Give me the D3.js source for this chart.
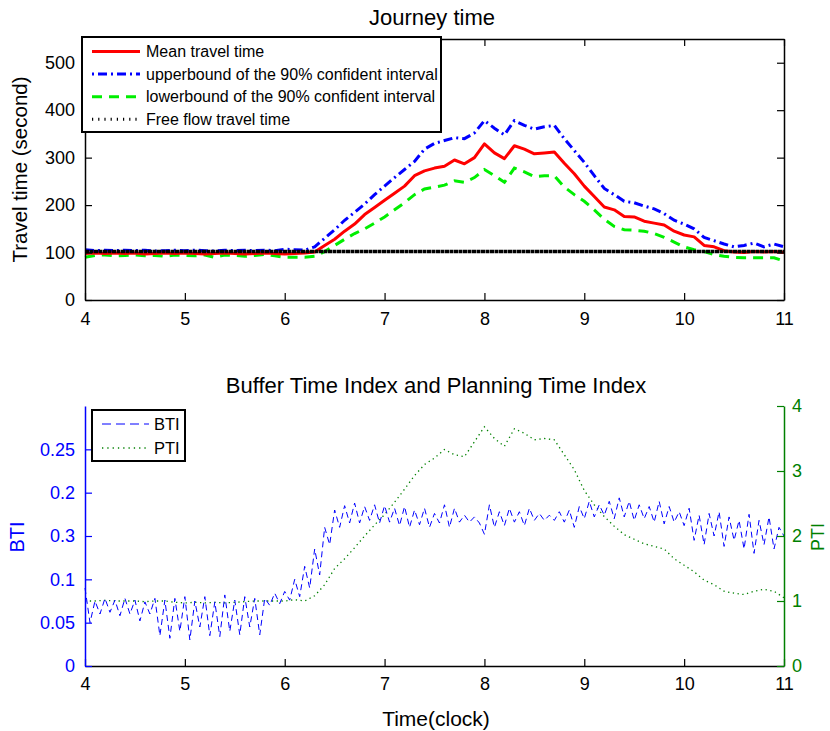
<!DOCTYPE html>
<html><head><meta charset="utf-8">
<script src="https://cdn.jsdelivr.net/npm/d3@7"></script>
<style>
body{margin:0;background:#fff;}
svg{display:block;}
</style></head><body>
<svg id="chart" width="830" height="731"></svg>
<script>
// ---------------- data ----------------
const hourTicks = [4, 5, 6, 7, 8, 9, 10, 11];
const travelTicks = [0, 100, 200, 300, 400, 500];
const btiTickValues = [0, 0.05, 0.1, 0.15, 0.2, 0.25];
const btiTickLabels = ["0", "0.05", "0.1", "0.3", "0.2", "0.25"];
const ptiTicks = [0, 1, 2, 3, 4];
const startHour = 4;
const travelStep = 0.1;   // hours between samples (travel time & PTI)
const btiStep = 0.05;     // hours between BTI samples

const meanTravel = [
  98, 99, 98, 99, 98, 99, 97, 98, 99, 98,
  99, 98, 97, 98, 99, 98, 97, 98, 99, 98,
  97, 98, 99,
  101, 115, 128, 145, 160, 180, 195,
  210, 225, 240, 262, 272, 278, 282, 295, 287, 300,
  329, 310, 298, 325, 318, 308, 310, 312, 288, 266,
  240, 218, 196, 190, 176, 175, 166, 162, 158, 145,
  137, 133, 115, 112, 104, 101, 100, 102, 101, 102,
  100
];
const upperBound = [
  106, 104, 105, 104, 105, 104, 105, 103, 104, 105,
  104, 105, 104, 103, 105, 104, 105, 104, 105, 104,
  107, 106, 105,
  112, 130, 148, 168, 185, 202, 222,
  240, 258, 275, 292, 318, 330, 336, 342, 340, 352,
  378, 362, 348, 378, 368, 360, 365, 368, 340, 315,
  290, 262, 235, 222, 208, 205, 198, 192, 182, 168,
  160, 150, 132, 125, 118, 112, 115, 120, 112, 118,
  112
];
const lowerBound = [
  90, 94, 95, 93, 94, 95, 93, 94, 92, 95,
  94, 93, 95, 90, 95, 94, 92, 94, 96, 93,
  90, 90, 90,
  92, 102, 115, 128, 140, 150, 162,
  175, 190, 205, 222, 234, 238, 242, 251, 248, 258,
  275, 262, 248, 278, 270, 260, 262, 262, 238, 222,
  208, 190, 170, 155, 148, 147, 145, 140, 132, 122,
  112, 106, 102, 96, 92, 90, 89, 89, 89, 89,
  82
];
const freeFlowTime = 102;

const ptiValues = [
  1.0, 1.0, 1.01, 1.0, 1.0, 1.0, 0.99, 1.0, 1.0, 0.98,
  0.97, 0.98, 0.97, 0.98, 0.97, 0.98, 0.99, 1.0, 1.0, 1.0,
  1.0, 1.02, 1.0,
  1.08, 1.25, 1.5, 1.65, 1.82, 2.0, 2.17,
  2.33, 2.52, 2.72, 2.93, 3.1, 3.2, 3.33, 3.25, 3.22, 3.45,
  3.68, 3.5, 3.38, 3.65, 3.58, 3.48, 3.5, 3.48, 3.25, 3.02,
  2.7, 2.48, 2.3, 2.15, 2.02, 1.95, 1.88, 1.84, 1.8, 1.65,
  1.55, 1.45, 1.32, 1.25, 1.15, 1.12, 1.1, 1.15, 1.18, 1.15,
  1.05
];

const btiValues = [
  0.09, 0.05, 0.075, 0.06, 0.078, 0.062, 0.076, 0.058, 0.078, 0.06,   // 4.00-4.45
  0.076, 0.052, 0.074, 0.06, 0.078, 0.035, 0.076, 0.032, 0.078, 0.04, // 4.50-4.95
  0.08, 0.03, 0.075, 0.045, 0.08, 0.035, 0.074, 0.034, 0.082, 0.04,   // 5.00-5.45
  0.076, 0.036, 0.08, 0.045, 0.078, 0.036, 0.078, 0.07, 0.084, 0.072, // 5.50-5.95
  0.086, 0.076, 0.1, 0.08, 0.115, 0.09, 0.135, 0.105, 0.16, 0.14,     // 6.00-6.45
  0.18, 0.16, 0.185, 0.165, 0.188, 0.165, 0.184, 0.168, 0.186, 0.165, // 6.50-6.95
  0.185, 0.166, 0.182, 0.162, 0.184, 0.16, 0.18, 0.163, 0.182, 0.16,  // 7.00-7.45
  0.176, 0.165, 0.186, 0.16, 0.182, 0.166, 0.174, 0.166, 0.172, 0.165,// 7.50-7.95
  0.152, 0.186, 0.16, 0.178, 0.162, 0.182, 0.166, 0.178, 0.162, 0.182,// 8.00-8.45
  0.168, 0.176, 0.168, 0.174, 0.168, 0.178, 0.166, 0.18, 0.16, 0.184, // 8.50-8.95
  0.17, 0.19, 0.172, 0.186, 0.174, 0.19, 0.17, 0.194, 0.172, 0.19,    // 9.00-9.45
  0.168, 0.186, 0.17, 0.184, 0.166, 0.19, 0.164, 0.184, 0.166, 0.178, // 9.50-9.95
  0.162, 0.182, 0.145, 0.174, 0.14, 0.176, 0.15, 0.178, 0.138, 0.172, // 10.00-10.45
  0.145, 0.168, 0.135, 0.175, 0.13, 0.168, 0.14, 0.172, 0.135, 0.16,  // 10.50-10.95
  0.15                                                                // 11.00
];

const topLegendLabels = [
  "Mean travel time",
  "upperbound of the 90% confident interval",
  "lowerbound of the 90% confident interval",
  "Free flow travel time"
];
const bottomLegendLabels = ["BTI", "PTI"];

// ---------------- drawing ----------------
const FONT = '"Liberation Sans", Arial, Helvetica, sans-serif';
const svg = d3.select("#chart").style("font-family", FONT);
const intFmt = d3.format("d");

const X0 = 85, X1 = 784;
const xTop = d3.scaleLinear().domain([4, 11]).range([X0, X1]);
const yTop = d3.scaleLinear().domain([0, 550]).range([300, 39]);
const xBot = d3.scaleLinear().domain([4, 11]).range([X0, X1]);
const yBTI = d3.scaleLinear().domain([0, 0.3]).range([666, 406]);
const yPTI = d3.scaleLinear().domain([0, 4]).range([666, 406]);

function styleAxis(g, color, fontSize) {
  g.attr("font-family", FONT).attr("font-size", fontSize);
  g.select(".domain").attr("stroke", color).attr("stroke-width", 1.5);
  g.selectAll(".tick line").attr("stroke", color).attr("stroke-width", 1.2);
  g.selectAll(".tick text").attr("fill", color);
}

// ---- top panel ----
const topG = svg.append("g");
topG.append("text").attr("x", 432).attr("y", 25).attr("text-anchor", "middle")
  .attr("font-size", 22).text("Journey time");
topG.append("text").attr("transform", `translate(27,${(39 + 300) / 2}) rotate(-90)`)
  .attr("text-anchor", "middle").attr("font-size", 20.5).text("Travel time (second)");

const lineTop = (arr) => d3.line()
  .x((d, i) => xTop(startHour + i * travelStep))
  .y(d => yTop(d))(arr);

topG.append("path").attr("d", lineTop(lowerBound)).attr("fill", "none")
  .attr("stroke", "#00ee00").attr("stroke-width", 3).attr("stroke-dasharray", "10,7");
topG.append("path").attr("d", lineTop(upperBound)).attr("fill", "none")
  .attr("stroke", "#0000ff").attr("stroke-width", 3).attr("stroke-dasharray", "9,4,2,4");
topG.append("path").attr("d", lineTop(meanTravel)).attr("fill", "none")
  .attr("stroke", "#ff0000").attr("stroke-width", 3).attr("stroke-linejoin", "round");
topG.append("path")
  .attr("d", d3.line().x(d => xTop(d)).y(() => yTop(freeFlowTime))([4, 11]))
  .attr("fill", "none").attr("stroke", "#000").attr("stroke-width", 3.5)
  .attr("stroke-dasharray", "4,0.5");

topG.append("g").attr("transform", "translate(0,300)")
  .call(d3.axisBottom(xTop).tickValues(hourTicks).tickFormat(intFmt).tickSize(-7).tickSizeOuter(0).tickPadding(12))
  .call(g => styleAxis(g, "#000", 18));
topG.append("g").attr("transform", "translate(0,39)")
  .call(d3.axisTop(xTop).tickValues(hourTicks).tickSize(-7).tickSizeOuter(0).tickFormat(""))
  .call(g => styleAxis(g, "#000", 18));
topG.append("g").attr("transform", `translate(${X0},0)`)
  .call(d3.axisLeft(yTop).tickValues(travelTicks).tickFormat(intFmt).tickSize(-7).tickSizeOuter(0).tickPadding(10))
  .call(g => styleAxis(g, "#000", 18));
topG.append("g").attr("transform", `translate(${X1},0)`)
  .call(d3.axisRight(yTop).tickValues(travelTicks).tickSize(-7).tickSizeOuter(0).tickFormat(""))
  .call(g => styleAxis(g, "#000", 18));

// top legend
const tl = topG.append("g");
tl.append("rect").attr("x", 82).attr("y", 37).attr("width", 359).attr("height", 95)
  .attr("fill", "#fff").attr("stroke", "#000").attr("stroke-width", 2);
const topLegendStyles = [
  {stroke: "#ff0000", dash: null, w: 3},
  {stroke: "#0000ff", dash: "2,4,9,4", w: 3},
  {stroke: "#00ee00", dash: "10,7", w: 3},
  {stroke: "#000", dash: "1.2,5", w: 3}
];
topLegendLabels.forEach((lab, i) => {
  const yy = 51.5 + i * 22.6;
  const s = topLegendStyles[i];
  tl.append("line").attr("x1", 92).attr("x2", 140).attr("y1", yy).attr("y2", yy)
    .attr("stroke", s.stroke).attr("stroke-width", s.w)
    .attr("stroke-dasharray", s.dash);
  tl.append("text").attr("x", 146).attr("y", yy).attr("dy", "0.35em")
    .attr("font-size", 16).text(lab);
});

// ---- bottom panel ----
const botG = svg.append("g");
botG.append("text").attr("x", 436).attr("y", 393).attr("text-anchor", "middle")
  .attr("font-size", 22).text("Buffer Time Index and Planning Time Index");
botG.append("text").attr("x", 436).attr("y", 726).attr("text-anchor", "middle")
  .attr("font-size", 21).text("Time(clock)");
botG.append("text").attr("transform", `translate(24,537) rotate(-90)`)
  .attr("text-anchor", "middle").attr("font-size", 20).attr("fill", "#0000ff").text("BTI");
botG.append("text").attr("transform", `translate(824,537) rotate(-90)`)
  .attr("text-anchor", "middle").attr("font-size", 18).attr("fill", "#008000").text("PTI");

botG.append("path")
  .attr("d", d3.line().x((d, i) => xBot(startHour + i * travelStep)).y(d => yPTI(d))(ptiValues))
  .attr("fill", "none").attr("stroke", "#008000").attr("stroke-width", 1.3)
  .attr("stroke-dasharray", "1.3,3.5");
botG.append("path")
  .attr("d", d3.line().x((d, i) => xBot(startHour + i * btiStep)).y(d => yBTI(d))(btiValues))
  .attr("fill", "none").attr("stroke", "#0000ff").attr("stroke-width", 1)
  .attr("stroke-dasharray", "6,4");

botG.append("g").attr("transform", "translate(0,666)")
  .call(d3.axisBottom(xBot).tickValues(hourTicks).tickFormat(intFmt).tickSize(-7).tickSizeOuter(0).tickPadding(11))
  .call(g => styleAxis(g, "#000", 18));
botG.append("g").attr("transform", `translate(${X0},0)`)
  .call(d3.axisLeft(yBTI).tickValues(btiTickValues).tickSize(-7).tickSizeOuter(0).tickPadding(10)
    .tickFormat((d, i) => btiTickLabels[i]))
  .call(g => styleAxis(g, "#0000ff", 18));
botG.append("g").attr("transform", `translate(${X1},0)`)
  .call(d3.axisRight(yPTI).tickValues(ptiTicks).tickFormat(intFmt).tickSize(-7).tickSizeOuter(0).tickPadding(8))
  .call(g => styleAxis(g, "#008000", 18));

// bottom legend
const bl = botG.append("g");
bl.append("rect").attr("x", 92).attr("y", 410).attr("width", 93).attr("height", 51)
  .attr("fill", "#fff").attr("stroke", "#000").attr("stroke-width", 2);
const botLegendStyles = [
  {stroke: "#0000ff", dash: "9,5", w: 1},
  {stroke: "#008000", dash: "1.3,4", w: 1.3}
];
bottomLegendLabels.forEach((lab, i) => {
  const yy = 424 + i * 24;
  const s = botLegendStyles[i];
  bl.append("line").attr("x1", 102).attr("x2", 149).attr("y1", yy).attr("y2", yy)
    .attr("stroke", s.stroke).attr("stroke-width", s.w).attr("stroke-dasharray", s.dash);
  bl.append("text").attr("x", 154).attr("y", yy).attr("dy", "0.35em")
    .attr("font-size", 16.5).text(lab);
});
</script>
</body></html>
